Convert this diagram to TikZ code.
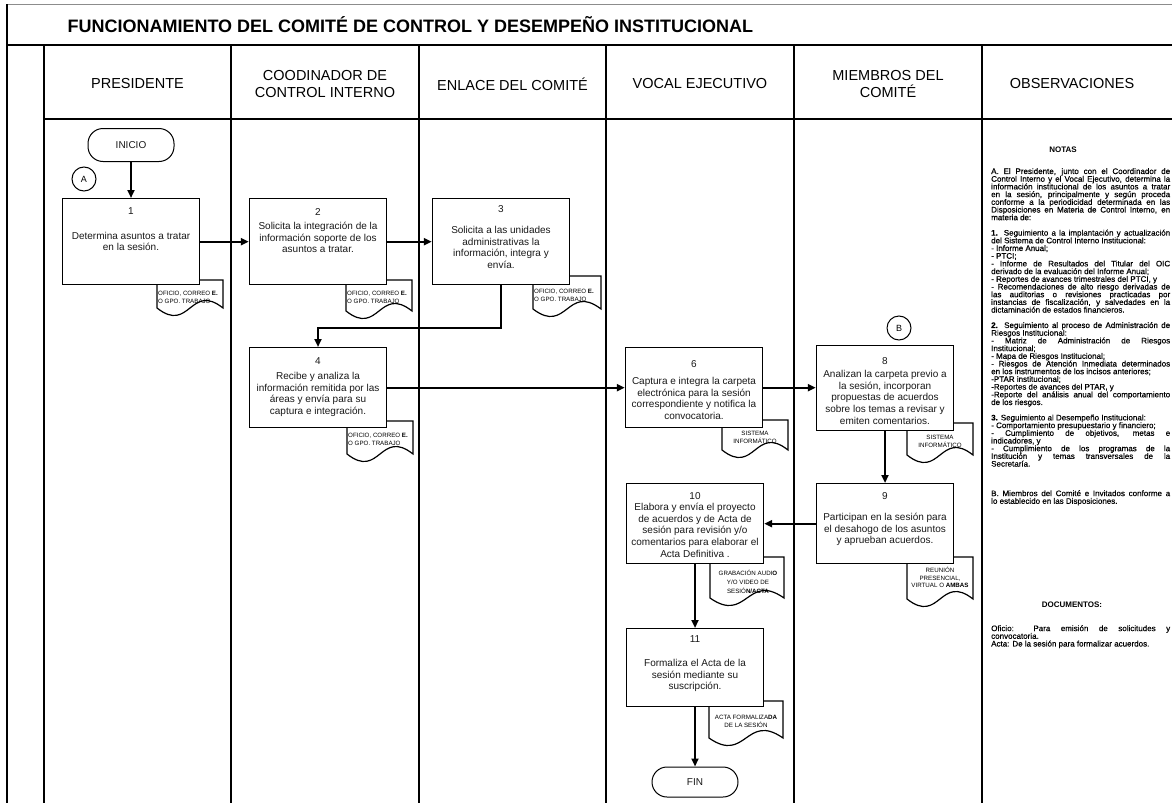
\documentclass[tikz,border=0pt]{standalone}
\usepackage{fontspec}
\setmainfont{Liberation Sans}
\newfontfamily\notefont[FakeBold=0.5]{Liberation Sans}
\usetikzlibrary{arrows.meta,positioning}
\setlength{\lineskiplimit}{-5pt}

\newcommand{\stepcont}[5]{\parbox[t][#1pt][t]{137pt}{\centering\vspace*{#2pt}#3\\[#4pt]#5\par}}
\newcommand{\docu}[4]{\draw[docline] (#1,#2) -- (#1+#3,#2) -- (#1+#3,#2+#4) .. controls (#1+0.5*#3,#2+#4-26) and (#1+0.5*#3,#2+#4+26) .. (#1,#2+#4) -- cycle;}

\tikzset{
  lane/.style={line width=1.6pt},
  docline/.style={draw, fill=white, line width=1.2pt},
  stepbox/.style={draw, fill=white, line width=1.4pt, inner sep=0pt, anchor=north, text=black!90, font=\fontsize{10}{11.6}\selectfont},
  term/.style={draw, fill=white, line width=1pt, rounded corners=15pt, minimum width=86pt, minimum height=33pt, text=black!90, font=\fontsize{10}{11}\selectfont},
  conn/.style={draw, circle, line width=1pt, minimum size=24pt, inner sep=0pt, font=\fontsize{9}{10}\selectfont},
  flow/.style={line width=2pt, -{Triangle[length=8pt,width=7pt]}},
  head/.style={align=center, font=\fontsize{14.5}{17.5}\selectfont},
  doctext/.style={inner sep=0pt, font=\fontsize{6.2}{7.6}\selectfont},
  notes/.style={inner sep=0pt, anchor=north west, text width=179pt, align=justify, font=\notefont\fontsize{8}{7.7}\selectfont},
}

\begin{document}
\begin{tikzpicture}[x=1pt, y=-1pt]
\useasboundingbox (0,0) rectangle (1172,803);
% marco y carriles
\draw[black!45, line width=0.8pt] (7,4) -- (1172,4);
\draw[line width=1.2pt] (7,4) -- (7,803);
\draw[line width=1.8pt] (7,45) -- (1172,45);
\draw[line width=1.4pt] (44,119) -- (1172,119);
\foreach \x in {44,231,419,606,794,982}
  \draw[lane] (\x,45) -- (\x,803);
\node[anchor=west, font=\bfseries\fontsize{18}{20}\selectfont] (titulo) at (64,25) {FUNCIONAMIENTO DEL COMITÉ DE CONTROL Y DESEMPEÑO INSTITUCIONAL};

% encabezados
\node[head] (hpres) at (137.5,84) {PRESIDENTE};
\node[head] (hcoord) at (325,84) {COODINADOR DE\\CONTROL INTERNO};
\node[head] (henlace) at (512.5,84) {ENLACE DEL COMITÉ};
\node[head] (hvocal) at (700,84) {VOCAL EJECUTIVO};
\node[head] (hmiem) at (888,84) {MIEMBROS DEL\\COMITÉ};
\node[head] (hobs) at (1072,84) {OBSERVACIONES};

% documentos
\docu{157}{280}{66}{28}
\node[doctext, anchor=north west, align=left] (doc1) at (158,291) {OFICIO, CORREO \textbf{E.}\\O GPO. TRABAJO};
\docu{346}{280}{66}{31}
\node[doctext, anchor=north west, align=left] (doc2) at (347,291) {OFICIO, CORREO \textbf{E.}\\O GPO. TRABAJO};
\docu{533}{276}{68}{33}
\node[doctext, anchor=north west, align=left] (doc3) at (534,289) {OFICIO, CORREO \textbf{E.}\\O GPO. TRABAJO};
\docu{347}{421}{66}{33}
\node[doctext, anchor=north west, align=left] (doc4) at (348,433) {OFICIO, CORREO \textbf{E.}\\O GPO. TRABAJO};
\docu{722}{420}{66}{30}
\node[doctext, anchor=north, align=center] (doc6) at (755,431) {SISTEMA\\INFORMÁTICO};
\docu{907}{423}{66}{32}
\node[doctext, anchor=north, align=center] (doc8) at (940,435) {SISTEMA\\INFORMÁTICO};
\docu{907}{557}{66}{42}
\node[doctext, anchor=north, align=center] (doc9) at (940,567) {REUNIÓN\\PRESENCIAL,\\VIRTUAL O \textbf{AMBAS}};
\docu{710}{557}{74}{41}
\node[doctext, anchor=north, align=center] (doc10) at (748,570) {GRABACIÓN AUDI\textbf{O}\\[1.5pt]Y/O VIDEO DE\\[1.5pt]SESIÓ\textbf{N/ACTA}};
\docu{709}{701}{74}{37}
\node[doctext, anchor=north, align=center] (doc11) at (746,715) {ACTA FORMALIZA\textbf{DA}\\DE LA SESIÓN};

% actividades
\node[stepbox] (b1) at (131,198) {\stepcont{86}{9.4}{1}{12.8}{Determina asuntos a tratar\\en la sesión.}};
\node[stepbox] (b2) at (318,198) {\stepcont{86}{9.4}{2}{3}{Solicita la integración de la\\información soporte de los\\asuntos a tratar.}};
\node[stepbox] (b3) at (501,198) {\stepcont{86}{6.4}{3}{10}{Solicita a las unidades\\administrativas la\\información, integra y\\envía.}};
\node[stepbox] (b4) at (318,347) {\stepcont{80}{10.4}{4}{3}{Recibe y analiza la\\información remitida por las\\áreas y envía para su\\captura e integración.}};
\node[stepbox] (b6) at (694,347) {\stepcont{80}{12.4}{6}{6}{Captura e integra la carpeta\\electrónica para la sesión\\correspondiente y notifica la\\convocatoria.}};
\node[stepbox] (b8) at (885,345) {\stepcont{85}{11.4}{8}{2}{Analizan la carpeta previo a\\la sesión, incorporan\\propuestas de acuerdos\\sobre los temas a revisar y\\emiten comentarios.}};
\node[stepbox] (b9) at (885,483) {\stepcont{80}{8.4}{9}{10}{Participan en la sesión para\\el desahogo de los asuntos\\y aprueban acuerdos.}};
\node[stepbox] (b10) at (695,483) {\stepcont{80}{8.4}{10}{0}{Elabora y envía el proyecto\\de acuerdos y de Acta de\\sesión para revisión y/o\\comentarios para elaborar el\\Acta Definitiva .}};
\node[stepbox] (b11) at (695,628) {\stepcont{78}{7.4}{11}{12}{Formaliza el Acta de la\\sesión mediante su\\suscripción.}};

\node[term] (inicio) at (131,145) {INICIO};
\node[term, minimum height=30pt] (fin) at (695,782) {FIN};
\node[conn] (conA) at (84,179) {A};
\node[conn] (conB) at (899,328) {B};

% flujo
\draw[flow] (inicio) -- (b1);
\draw[flow] (b1) -- (b2);
\draw[flow] (b2) -- (b3);
\draw[flow] (b3.south) -- ++(0,43) -| (b4.north);
\draw[flow] (b4) -- (b6);
\draw[flow] (b6) -- (b6 -| b8.west);
\draw[flow] (b8) -- (b9);
\draw[flow] (b9) -- (b10);
\draw[flow] (b10) -- (b11);
\draw[flow] (b11) -- (fin);

% observaciones
\node[font=\bfseries\fontsize{8}{9}\selectfont] (notas) at (1063,150) {NOTAS};
\node[notes] (notaA) at (991,168) {%
A. El Presidente, junto con el Coordinador de\linebreak
Control Interno y el Vocal Ejecutivo, determina la\linebreak
información institucional de los asuntos a tratar\linebreak
en la sesión, principalmente y según proceda\linebreak
conforme a la periodicidad determinada en las\linebreak
Disposiciones en Materia de Control Interno, en\linebreak
materia de:\par\vspace{7.7pt}
\textbf{1.} Seguimiento a la implantación y actualización\linebreak
del Sistema de Control Interno Institucional:\par
- Informe Anual;\par
- PTCI;\par
- Informe de Resultados del Titular del OIC\linebreak
derivado de la evaluación del Informe Anual;\par
- Reportes de avances trimestrales del PTCI, y\par
- Recomendaciones de alto riesgo derivadas de\linebreak
las auditorias o revisiones practicadas por\linebreak
instancias de fiscalización, y salvedades en la\linebreak
dictaminación de estados financieros.\par\vspace{7.7pt}
\textbf{2.} Seguimiento al proceso de Administración de\linebreak
Riesgos Institucional:\par
- Matriz de Administración de Riesgos\linebreak
Institucional;\par
- Mapa de Riesgos Institucional;\par
- Riesgos de Atención Inmediata determinados\linebreak
en los instrumentos de los incisos anteriores;\par
-PTAR institucional;\par
-Reportes de avances del PTAR, y\par
-Reporte del análisis anual del comportamiento\linebreak
de los riesgos.\par\vspace{7.7pt}
\textbf{3.} Seguimiento al Desempeño Institucional:\par
- Comportamiento presupuestario y financiero;\par
- Cumplimiento de objetivos, metas e\linebreak
indicadores, y\par
- Cumplimiento de los programas de la\linebreak
Institución y temas transversales de la\linebreak
Secretaría.};
\node[notes] (notaB) at (991,490) {B. Miembros del Comité e Invitados conforme a\linebreak
lo establecido en las Disposiciones.};
\node[font=\bfseries\fontsize{8}{9}\selectfont] (docs) at (1072,605) {DOCUMENTOS:};
\node[notes] (notaDoc) at (991,625) {Oficio: Para emisión de solicitudes y\linebreak
convocatoria.\par
Acta: De la sesión para formalizar acuerdos.};
\end{tikzpicture}
\end{document}
